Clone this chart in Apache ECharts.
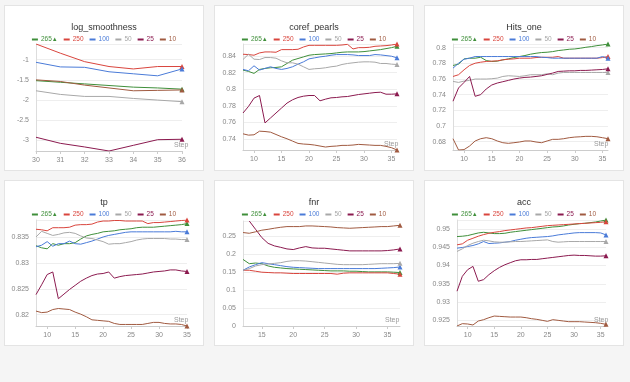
<!DOCTYPE html>
<html>
<head>
<meta charset="utf-8">
<script src="https://cdn.jsdelivr.net/npm/echarts@6/dist/echarts.min.js"></script>
<style>
  html, body { margin: 0; padding: 0; background: #f5f5f5; }
  body { width: 630px; height: 382px; position: relative; overflow: hidden; }
  .card { position: absolute; width: 200px; height: 166px; background: #fff;
          border: 1px solid #e4e4e4; box-sizing: border-box; }
</style>
</head>
<body>
<div class="card" id="c1" style="left:4px;top:5px"></div>
<div class="card" id="c2" style="left:214px;top:5px"></div>
<div class="card" id="c3" style="left:424px;top:5px"></div>
<div class="card" id="c4" style="left:4px;top:180px"></div>
<div class="card" id="c5" style="left:214px;top:180px"></div>
<div class="card" id="c6" style="left:424px;top:180px"></div>
<script>
// series names and colours (same in every panel)
var names = ['265', '250', '100', '50', '25', '10'];
var colors = ['#3f8f3a', '#d9453d', '#4a7bd8', '#a8a8a8', '#8b1a4f', '#a05a40'];

// log_smoothness
var smoothSteps = [30, 31, 32, 33, 34, 35, 36];
var smooth265 = [-1.52, -1.56, -1.60, -1.64, -1.68, -1.70, -1.73];
var smooth250 = [-0.613, -0.84, -1.05, -1.17, -1.23, -1.17, -1.17];
var smooth100 = [-1.066, -1.18, -1.19, -1.30, -1.35, -1.40, -1.23];
var smooth50 = [-1.77, -1.86, -1.91, -1.91, -1.96, -2.0, -2.04];
var smooth25 = [-2.92, -3.07, -3.16, -3.26, -3.12, -2.98, -2.97];
var smooth10 = [-1.50, -1.54, -1.63, -1.70, -1.77, -1.76, -1.75];

// coref_pearls
var corefSteps = [8, 9, 10, 11, 12, 13, 14, 15, 16, 17, 18, 19, 20, 21, 22, 23, 24, 25, 26, 27, 28, 29, 30, 31, 32, 33, 34, 35, 36];
var coref265 = [0.8232, 0.8216, 0.8192, 0.824, 0.8252, 0.826, 0.8264, 0.8272, 0.8312, 0.8352, 0.8372, 0.8392, 0.8412, 0.842, 0.8424, 0.8428, 0.8432, 0.844, 0.8448, 0.8452, 0.8452, 0.8452, 0.8456, 0.8464, 0.8472, 0.848, 0.8492, 0.8504, 0.852];
var coref250 = [0.8424, 0.842, 0.8412, 0.844, 0.8452, 0.8452, 0.8448, 0.848, 0.848, 0.848, 0.8484, 0.8512, 0.8532, 0.8532, 0.8532, 0.8532, 0.8532, 0.8532, 0.8536, 0.8544, 0.8488, 0.8504, 0.8504, 0.8508, 0.852, 0.8524, 0.8528, 0.8536, 0.8548];
var coref100 = [0.824, 0.8224, 0.8284, 0.8232, 0.8252, 0.8272, 0.8252, 0.824, 0.8252, 0.8272, 0.8304, 0.8332, 0.8368, 0.838, 0.8392, 0.84, 0.8412, 0.842, 0.842, 0.842, 0.8416, 0.8408, 0.8408, 0.8408, 0.842, 0.8416, 0.8408, 0.84, 0.838];
var coref50 = [0.836, 0.8424, 0.8364, 0.836, 0.8384, 0.8384, 0.8376, 0.8344, 0.832, 0.832, 0.8304, 0.8272, 0.824, 0.8248, 0.8252, 0.826, 0.8272, 0.828, 0.83, 0.8312, 0.832, 0.8328, 0.8332, 0.8332, 0.8328, 0.8312, 0.8312, 0.8304, 0.83];
var coref25 = [0.7712, 0.7792, 0.7892, 0.7924, 0.7592, 0.7652, 0.7712, 0.7772, 0.7832, 0.7872, 0.79, 0.7916, 0.7924, 0.7924, 0.786, 0.788, 0.7896, 0.79, 0.7908, 0.7912, 0.7924, 0.7936, 0.7944, 0.7952, 0.796, 0.7964, 0.794, 0.794, 0.7944];
var coref10 = [0.746, 0.7444, 0.7448, 0.7492, 0.7488, 0.748, 0.7452, 0.7424, 0.74, 0.7372, 0.7344, 0.7336, 0.7332, 0.7324, 0.7312, 0.73, 0.7308, 0.7312, 0.732, 0.732, 0.7324, 0.7332, 0.7328, 0.7324, 0.732, 0.732, 0.7308, 0.7292, 0.7264];

// Hits_one
var hitsSteps = [8, 9, 10, 11, 12, 13, 14, 15, 16, 17, 18, 19, 20, 21, 22, 23, 24, 25, 26, 27, 28, 29, 30, 31, 32, 33, 34, 35, 36];
var hits265 = [0.7772, 0.7789, 0.7856, 0.7865, 0.7865, 0.7877, 0.7835, 0.7823, 0.7827, 0.7844, 0.7856, 0.7873, 0.7886, 0.7899, 0.7916, 0.7928, 0.7937, 0.7941, 0.7949, 0.7962, 0.797, 0.7979, 0.7983, 0.7992, 0.8004, 0.8013, 0.8025, 0.8034, 0.8046];
var hits250 = [0.7632, 0.7654, 0.7717, 0.7772, 0.7801, 0.7814, 0.7823, 0.7827, 0.7831, 0.7844, 0.7852, 0.7856, 0.7865, 0.7865, 0.7865, 0.7873, 0.7877, 0.7877, 0.7877, 0.7886, 0.7865, 0.7865, 0.7865, 0.7865, 0.7865, 0.7865, 0.7865, 0.7873, 0.7886];
var hits100 = [0.7738, 0.7801, 0.7852, 0.7865, 0.7886, 0.7886, 0.7886, 0.7886, 0.7886, 0.7886, 0.7886, 0.7886, 0.7886, 0.7886, 0.7886, 0.7886, 0.7877, 0.7873, 0.7865, 0.7865, 0.7865, 0.7865, 0.7865, 0.7865, 0.7865, 0.7865, 0.7865, 0.7886, 0.7865];
var hits50 = [0.7569, 0.7556, 0.7573, 0.7582, 0.7599, 0.7599, 0.7599, 0.7603, 0.7611, 0.7632, 0.7641, 0.7637, 0.7632, 0.7641, 0.7654, 0.7654, 0.7654, 0.7666, 0.7654, 0.7675, 0.7683, 0.7683, 0.7683, 0.7683, 0.7683, 0.7683, 0.7683, 0.7683, 0.7683];
var hits25 = [0.7316, 0.7485, 0.7556, 0.7632, 0.7379, 0.74, 0.7472, 0.7523, 0.7548, 0.7565, 0.7582, 0.7599, 0.7611, 0.762, 0.7624, 0.7632, 0.7641, 0.7658, 0.7675, 0.7696, 0.77, 0.7704, 0.7704, 0.7709, 0.7709, 0.7713, 0.7717, 0.7721, 0.773];
var hits10 = [0.6838, 0.6694, 0.6699, 0.6745, 0.6809, 0.6838, 0.6851, 0.6838, 0.6809, 0.6787, 0.6779, 0.6787, 0.6796, 0.6809, 0.6809, 0.6796, 0.6787, 0.6809, 0.683, 0.683, 0.6838, 0.6851, 0.6859, 0.6863, 0.6868, 0.6868, 0.6863, 0.6851, 0.6838];

// tp
var tpSteps = [8, 9, 10, 11, 12, 13, 14, 15, 16, 17, 18, 19, 20, 21, 22, 23, 24, 25, 26, 27, 28, 29, 30, 31, 32, 33, 34, 35];
var tp265 = [0.8334, 0.833, 0.8328, 0.8338, 0.8335, 0.8338, 0.8338, 0.834, 0.8347, 0.8353, 0.8356, 0.8358, 0.8361, 0.8362, 0.8363, 0.8365, 0.8366, 0.8367, 0.8369, 0.837, 0.837, 0.837, 0.8371, 0.8372, 0.8373, 0.8374, 0.8375, 0.8377];
var tp250 = [0.8366, 0.8365, 0.8363, 0.8369, 0.8369, 0.8369, 0.837, 0.8374, 0.8375, 0.8375, 0.8376, 0.838, 0.8382, 0.8382, 0.8383, 0.8383, 0.8382, 0.8382, 0.8382, 0.8382, 0.8377, 0.8379, 0.8379, 0.838, 0.8381, 0.8382, 0.8383, 0.8384];
var tp100 = [0.8332, 0.8335, 0.8342, 0.8333, 0.8338, 0.8338, 0.8343, 0.8338, 0.8337, 0.834, 0.8343, 0.8347, 0.8351, 0.8354, 0.8356, 0.8358, 0.836, 0.8361, 0.8361, 0.8361, 0.8361, 0.8361, 0.8361, 0.8361, 0.8361, 0.8362, 0.8361, 0.8361];
var tp50 = [0.8351, 0.8362, 0.8358, 0.8354, 0.8356, 0.8359, 0.836, 0.8358, 0.8353, 0.8349, 0.8348, 0.8345, 0.8342, 0.8337, 0.8338, 0.8338, 0.834, 0.8342, 0.8345, 0.8347, 0.8348, 0.8348, 0.8348, 0.8348, 0.8347, 0.8347, 0.8346, 0.8346];
var tp25 = [0.8239, 0.8258, 0.8278, 0.8283, 0.8231, 0.824, 0.8249, 0.8257, 0.8265, 0.8271, 0.8276, 0.8279, 0.828, 0.8283, 0.8271, 0.8274, 0.8276, 0.8277, 0.8278, 0.8279, 0.8281, 0.8283, 0.8284, 0.8285, 0.8287, 0.8287, 0.8285, 0.8284];
var tp10 = [0.8207, 0.8204, 0.8205, 0.821, 0.8212, 0.8211, 0.821, 0.8205, 0.8201, 0.8196, 0.819, 0.8189, 0.8188, 0.8187, 0.8183, 0.8181, 0.8181, 0.8181, 0.8181, 0.8181, 0.8183, 0.8185, 0.8185, 0.8183, 0.8182, 0.8182, 0.8181, 0.8178];

// fnr
var fnrSteps = [12, 13, 14, 15, 16, 17, 18, 19, 20, 21, 22, 23, 24, 25, 26, 27, 28, 29, 30, 31, 32, 33, 34, 35, 36, 37];
var fnr265 = [0.1845, 0.1727, 0.1745, 0.1727, 0.1664, 0.1627, 0.1609, 0.1591, 0.1582, 0.1573, 0.1564, 0.1555, 0.1545, 0.1536, 0.1527, 0.1527, 0.1527, 0.1518, 0.1518, 0.1509, 0.15, 0.15, 0.15, 0.15, 0.1491, 0.1482];
var fnr250 = [0.1545, 0.1545, 0.1518, 0.1491, 0.1482, 0.1473, 0.1473, 0.1464, 0.1455, 0.1455, 0.1455, 0.1455, 0.1455, 0.1455, 0.1455, 0.1436, 0.1464, 0.1473, 0.1473, 0.1473, 0.1473, 0.1473, 0.1473, 0.1473, 0.1455, 0.1436];
var fnr100 = [0.1545, 0.1636, 0.17, 0.1755, 0.1727, 0.17, 0.1673, 0.1645, 0.1627, 0.1618, 0.1609, 0.16, 0.1591, 0.1591, 0.1591, 0.1591, 0.1591, 0.1591, 0.1591, 0.1591, 0.1591, 0.1591, 0.16, 0.1609, 0.1618, 0.1636];
var fnr50 = [0.1545, 0.159, 0.1664, 0.17, 0.1718, 0.1736, 0.1755, 0.1791, 0.1809, 0.1809, 0.18, 0.1782, 0.1764, 0.1745, 0.1727, 0.1709, 0.17, 0.17, 0.17, 0.17, 0.1709, 0.1718, 0.1727, 0.1727, 0.1727, 0.1736];
var fnr25 = [null, 0.291, 0.268, 0.245, 0.229, 0.222, 0.218, 0.2136, 0.2118, 0.2164, 0.22, 0.2164, 0.2155, 0.2155, 0.2136, 0.2118, 0.21, 0.2082, 0.2082, 0.2082, 0.2082, 0.2082, 0.2082, 0.2091, 0.2109, 0.2136];
var fnr10 = [0.259, 0.257, 0.261, 0.2655, 0.268, 0.271, 0.2736, 0.2755, 0.2755, 0.2755, 0.2773, 0.2773, 0.2764, 0.2755, 0.2745, 0.2727, 0.2718, 0.2709, 0.2718, 0.2727, 0.2736, 0.2745, 0.2755, 0.2755, 0.2773, 0.2791];

// acc
var accSteps = [8, 9, 10, 11, 12, 13, 14, 15, 16, 17, 18, 19, 20, 21, 22, 23, 24, 25, 26, 27, 28, 29, 30, 31, 32, 33, 34, 35, 36];
var acc265 = [0.94792, 0.94801, 0.94819, 0.94855, 0.94891, 0.94909, 0.94891, 0.94873, 0.94873, 0.94882, 0.94909, 0.94928, 0.94946, 0.94964, 0.94982, 0.95, 0.95018, 0.95036, 0.95054, 0.95063, 0.95082, 0.95109, 0.95127, 0.95145, 0.95154, 0.95172, 0.9519, 0.95217, 0.95245];
var acc250 = [0.94565, 0.94592, 0.94692, 0.94746, 0.94801, 0.94846, 0.94882, 0.94909, 0.94928, 0.94955, 0.94973, 0.94991, 0.95009, 0.95027, 0.95036, 0.95054, 0.95072, 0.95091, 0.951, 0.95109, 0.95118, 0.95127, 0.95136, 0.95145, 0.95154, 0.95163, 0.95172, 0.95181, 0.95199];
var acc100 = [0.94475, 0.94493, 0.9452, 0.94547, 0.94592, 0.94656, 0.94601, 0.9461, 0.94619, 0.94638, 0.94656, 0.94692, 0.94719, 0.94746, 0.94764, 0.94773, 0.94783, 0.94792, 0.9481, 0.94837, 0.94855, 0.94873, 0.94891, 0.949, 0.949, 0.949, 0.949, 0.94891, 0.94837];
var acc50 = [0.94384, 0.94456, 0.94547, 0.9461, 0.94656, 0.94692, 0.94674, 0.94647, 0.94638, 0.94638, 0.94647, 0.94656, 0.94656, 0.94665, 0.94674, 0.94683, 0.94692, 0.94701, 0.94656, 0.94638, 0.94647, 0.94656, 0.94656, 0.94656, 0.94656, 0.94656, 0.94656, 0.94656, 0.94656];
var acc25 = [0.93297, 0.93704, 0.93886, 0.93976, 0.93569, 0.93614, 0.9375, 0.93858, 0.93949, 0.94021, 0.94076, 0.9413, 0.94157, 0.94157, 0.94166, 0.94166, 0.94185, 0.94203, 0.94221, 0.94239, 0.94257, 0.94275, 0.94284, 0.94275, 0.94275, 0.94266, 0.94257, 0.94257, 0.94266];
var acc10 = [0.92345, 0.92409, 0.924, 0.92373, 0.92481, 0.92518, 0.92572, 0.92617, 0.92608, 0.92599, 0.9259, 0.9259, 0.9259, 0.92572, 0.92545, 0.92527, 0.925, 0.92472, 0.92518, 0.925, 0.92481, 0.92463, 0.92463, 0.92463, 0.92454, 0.92445, 0.92436, 0.92418, 0.92391];

var panels = [
    {id: 'c1', title: 'log_smoothness', steps: smoothSteps,
     values: [smooth265, smooth250, smooth100, smooth50, smooth25, smooth10],
     grid: {left: 31, right: 21, top: 38, bottom: 19}, ySplit: 5, yMin: 'dataMin',
     xEnds: true, xMaxLabel: true, gap: -8},
    {id: 'c2', title: 'coref_pearls', steps: corefSteps,
     values: [coref265, coref250, coref100, coref50, coref25, coref10],
     grid: {left: 28, right: 16, top: 38, bottom: 20}, ySplit: 6, yMin: 'dataMin',
     xEnds: false, xMaxLabel: false, gap: -13},
    {id: 'c3', title: 'Hits_one', steps: hitsSteps,
     values: [hits265, hits250, hits100, hits50, hits25, hits10],
     grid: {left: 28, right: 15, top: 38, bottom: 20}, ySplit: 6, yMin: 'dataMin',
     xEnds: false, xMaxLabel: false, gap: -14},
    {id: 'c4', title: 'tp', steps: tpSteps,
     values: [tp265, tp250, tp100, tp50, tp25, tp10],
     grid: {left: 31, right: 16, top: 39, bottom: 19}, ySplit: 5, yMin: 'dataMin',
     xEnds: false, xMaxLabel: true, gap: -13},
    {id: 'c5', title: 'fnr', steps: fnrSteps,
     values: [fnr265, fnr250, fnr100, fnr50, fnr25, fnr10],
     grid: {left: 28, right: 13, top: 40, bottom: 19}, ySplit: 5, yMin: 0,
     xEnds: false, xMaxLabel: false, gap: -15},
    {id: 'c6', title: 'acc', steps: accSteps,
     values: [acc265, acc250, acc100, acc50, acc25, acc10],
     grid: {left: 32, right: 17, top: 39, bottom: 19}, ySplit: 5, yMin: 'dataMin',
     xEnds: false, xMaxLabel: false, gap: -12}
];

panels.forEach(function (p) {
    var chart = echarts.init(document.getElementById(p.id));
    var series = [];
    for (var i = 0; i < names.length; i++) {
        var vals = p.values[i];
        var data = [];
        for (var j = 0; j < p.steps.length; j++) {
            var item = {value: [p.steps[j], vals[j]], symbolSize: 0};
            if (j == p.steps.length - 1) {
                item.symbolSize = 5;
            }
            data.push(item);
        }
        series.push({
            name: names[i],
            type: 'line',
            data: data,
            symbol: 'triangle',
            showSymbol: true,
            color: colors[i],
            lineStyle: {width: 1},
            animation: false
        });
    }
    var option = {
        animation: false,
        title: {
            text: p.title,
            left: 'center',
            top: 12,
            textStyle: {fontSize: 9, fontWeight: 'normal', color: '#333'}
        },
        legend: {
            top: 25,
            left: 'center',
            icon: 'rect',
            itemWidth: 6,
            itemHeight: 2,
            itemGap: 6,
            textStyle: {fontSize: 6.5, padding: [0, 0, 0, -2],
                        rich: {t: {color: colors[0], fontSize: 6}}},
            formatter: function (name) {
                return name == '265' ? '265{t|▲}' : name;
            },
            data: names.map(function (n, k) {
                return {name: n, textStyle: {color: colors[k]}};
            })
        },
        grid: p.grid,
        xAxis: {
            type: 'value',
            min: 'dataMin',
            max: 'dataMax',
            name: 'Step',
            nameLocation: 'end',
            nameGap: p.gap,
            nameTextStyle: {fontSize: 7, color: '#999', verticalAlign: 'bottom', padding: [0, 0, 2, 0]},
            axisLine: {lineStyle: {color: '#ccc'}},
            axisTick: {show: true, length: 3, lineStyle: {color: '#ccc'}},
            axisLabel: {fontSize: 7, color: '#888', margin: 6,
                        showMinLabel: p.xEnds, showMaxLabel: p.xMaxLabel},
            splitLine: {show: false}
        },
        yAxis: {
            type: 'value',
            min: p.yMin,
            max: 'dataMax',
            splitNumber: p.ySplit,
            axisLine: {show: true, lineStyle: {color: '#ddd'}},
            axisTick: {show: false},
            axisLabel: {fontSize: 7, color: '#888', margin: 7,
                        showMinLabel: p.yMin === 0, showMaxLabel: false},
            splitLine: {lineStyle: {color: '#eee'}}
        },
        series: series
    };
    chart.setOption(option);
});
</script>
</body>
</html>
